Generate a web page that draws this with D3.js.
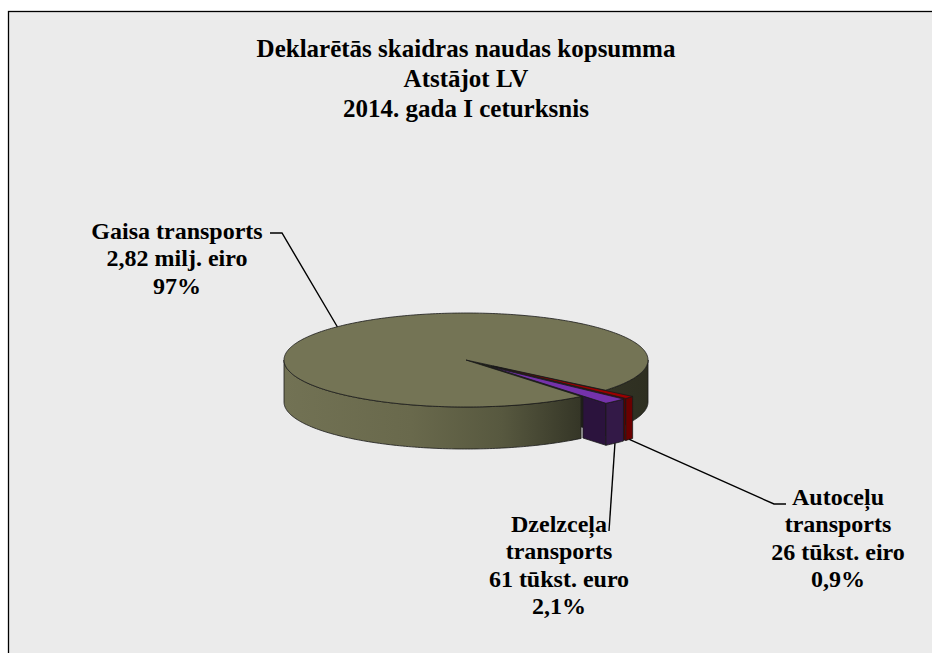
<!DOCTYPE html>
<html>
<head>
<meta charset="utf-8">
<script src="https://cdn.jsdelivr.net/npm/d3@7"></script>
<style>
  html, body { margin: 0; padding: 0; background: #fff; }
  svg { display: block; }
  text { font-family: "Liberation Serif", "Times New Roman", serif; font-weight: bold; fill: #000; }
</style>
</head>
<body>
<svg id="chart" width="932" height="653"></svg>
<script>
// data (tūkst. eiro)
const categories = ["Gaisa transports", "Dzelzceļa transports", "Autoceļu transports"];
const amounts = [2820, 61, 26];
const labelLines = [
  ["Gaisa transports", "2,82 milj. eiro", "97%"],
  ["Dzelzceļa", "transports", "61 tūkst. euro", "2,1%"],
  ["Autoceļu", "transports", "26 tūkst. eiro", "0,9%"]
];
const titleLines = ["Deklarētās skaidras naudas kopsumma", "Atstājot LV", "2014. gada I ceturksnis"];

// styles
const topColors = ["#747455", "#7532ab", "#9b0000"];
const sideColors = ["url(#sideGrad)", "#331947", "#6a0000"];
const wallColors = ["#222318", "#2b133d", "#560000"];
const explode = [0, 0.2, 0.2];

const svg = d3.select("#chart");
const W = 932, H = 653;
const cx = 466, cy = 360, rx = 182, ry = 47, depth = 42;
const rad = d => d * Math.PI / 180;

// chart area
svg.append("rect")
  .attr("x", 8.5).attr("y", 11.5)
  .attr("width", W + 10).attr("height", H + 10)
  .attr("fill", "#ebebeb").attr("stroke", "#000").attr("stroke-width", 1.3);

svg.append("g").selectAll("text").data(titleLines).join("text")
  .attr("x", 466).attr("y", (d, i) => 57 + i * 30)
  .attr("text-anchor", "middle").attr("font-size", 25)
  .text(d => d);

const defs = svg.append("defs");
const grad = defs.append("linearGradient").attr("id", "sideGrad")
  .attr("gradientUnits", "userSpaceOnUse")
  .attr("x1", cx - rx).attr("x2", cx + rx).attr("y1", 0).attr("y2", 0);
[[0, "#727254"], [0.35, "#69694c"], [0.6, "#57583f"], [0.82, "#343526"], [1, "#2e2f21"]]
  .forEach(([o, c]) => grad.append("stop").attr("offset", o).attr("stop-color", c));

// pie layout, counterclockwise from start so small slices sit on the front right
const start = rad(490);
const pie = d3.pie().sort(null).startAngle(start).endAngle(start - 2 * Math.PI);
const arcs = pie(amounts).map((d, i) => {
  const a0 = Math.min(d.startAngle, d.endAngle), a1 = Math.max(d.startAngle, d.endAngle);
  const m = (a0 + a1) / 2;
  const e = explode[i];
  const off = [e * rx * Math.sin(m), -e * ry * Math.cos(m)];
  return {i, a0, a1, m, e, off};
});

const pt = (a, r, z, off) => [cx + off[0] + rx * r * Math.sin(a), cy + off[1] - ry * r * Math.cos(a) + z];
const line = d3.line();
const samples = (s, e) => {
  const n = Math.max(2, Math.ceil(Math.abs(e - s) / rad(1)));
  return d3.range(n + 1).map(k => s + (e - s) * k / n);
};

const topPath = d => line([pt(0, 0, 0, d.off)].concat(samples(d.a0, d.a1).map(a => pt(a, 1, 0, d.off)))) + "Z";
const sidePaths = d => {
  const out = [];
  [0, 1].forEach(k => {
    const s = Math.max(d.a0, Math.PI / 2 + 2 * Math.PI * k), e = Math.min(d.a1, 1.5 * Math.PI + 2 * Math.PI * k);
    if (e > s) {
      const top = samples(s, e).map(a => pt(a, 1, 0, d.off));
      const bot = samples(e, s).map(a => pt(a, 1, depth, d.off));
      out.push(line(top.concat(bot)) + "Z");
    }
  });
  return out;
};
// radial walls; for exploded slices only the part sticking out of the big cylinder
const wallPaths = d => {
  const out = [];
  [[d.a0, d.a0 - Math.PI / 2], [d.a1, d.a1 + Math.PI / 2]].forEach(([a, n]) => {
    if (-Math.cos(n) > 0) {
      const c = d.e * Math.cos(a - d.m);
      const t0 = d.e > 0 ? Math.max(0, -c + Math.sqrt(c * c - d.e * d.e + 1)) : 0;
      out.push(line([pt(a, t0, 0, d.off), pt(a, 1, 0, d.off), pt(a, 1, depth, d.off), pt(a, t0, depth, d.off)]) + "Z");
    }
  });
  return out;
};

const stroke = "#1b1b1b", sw = 0.8;
const big = arcs[0], small = arcs.slice(1);

// big slice: wall, side, top
const gBig = svg.append("g");
wallPaths(big).forEach(p => gBig.append("path").attr("d", p).attr("fill", wallColors[0]).attr("stroke", stroke).attr("stroke-width", sw));
sidePaths(big).forEach(p => gBig.append("path").attr("d", p).attr("fill", sideColors[0]).attr("stroke", stroke).attr("stroke-width", sw));
gBig.append("path").attr("d", topPath(big)).attr("fill", topColors[0]).attr("stroke", stroke).attr("stroke-width", sw);

// small slices: walls and sides kept off the big top face
defs.append("clipPath").attr("id", "outsideTop")
  .append("path").attr("clip-rule", "evenodd")
  .attr("d", `M0,0H${W}V${H}H0Z` + topPath(big));
const gSmall = svg.append("g").attr("clip-path", "url(#outsideTop)");
small.slice().reverse().forEach(d => {
  wallPaths(d).forEach(p => gSmall.append("path").attr("d", p).attr("fill", wallColors[d.i]).attr("stroke", stroke).attr("stroke-width", sw));
  sidePaths(d).forEach(p => gSmall.append("path").attr("d", p).attr("fill", sideColors[d.i]).attr("stroke", stroke).attr("stroke-width", sw));
});
small.slice().reverse().forEach(d => {
  svg.append("path").attr("d", topPath(d)).attr("fill", topColors[d.i]).attr("stroke", stroke).attr("stroke-width", sw);
});

// leader lines
const leaders = [
  [pt(rad(315), 1, 0, big.off), [282, 233], [270, 233]],
  [pt(arcs[1].m, 1, depth, arcs[1].off), [609, 531]],
  [pt(arcs[2].m, 1, depth, arcs[2].off), [774, 504], [786, 504]]
];
svg.append("g").selectAll("path").data(leaders).join("path")
  .attr("d", d => line(d)).attr("fill", "none").attr("stroke", "#000").attr("stroke-width", 1.4);

// labels
const labelPos = [[177, 239], [559, 532], [838, 505]];
labelLines.forEach((lines, i) => {
  svg.append("g").selectAll("text").data(lines).join("text")
    .attr("x", labelPos[i][0]).attr("y", (d, k) => labelPos[i][1] + k * 27.4)
    .attr("text-anchor", "middle").attr("font-size", 24)
    .text(d => d);
});
</script>
</body>
</html>
